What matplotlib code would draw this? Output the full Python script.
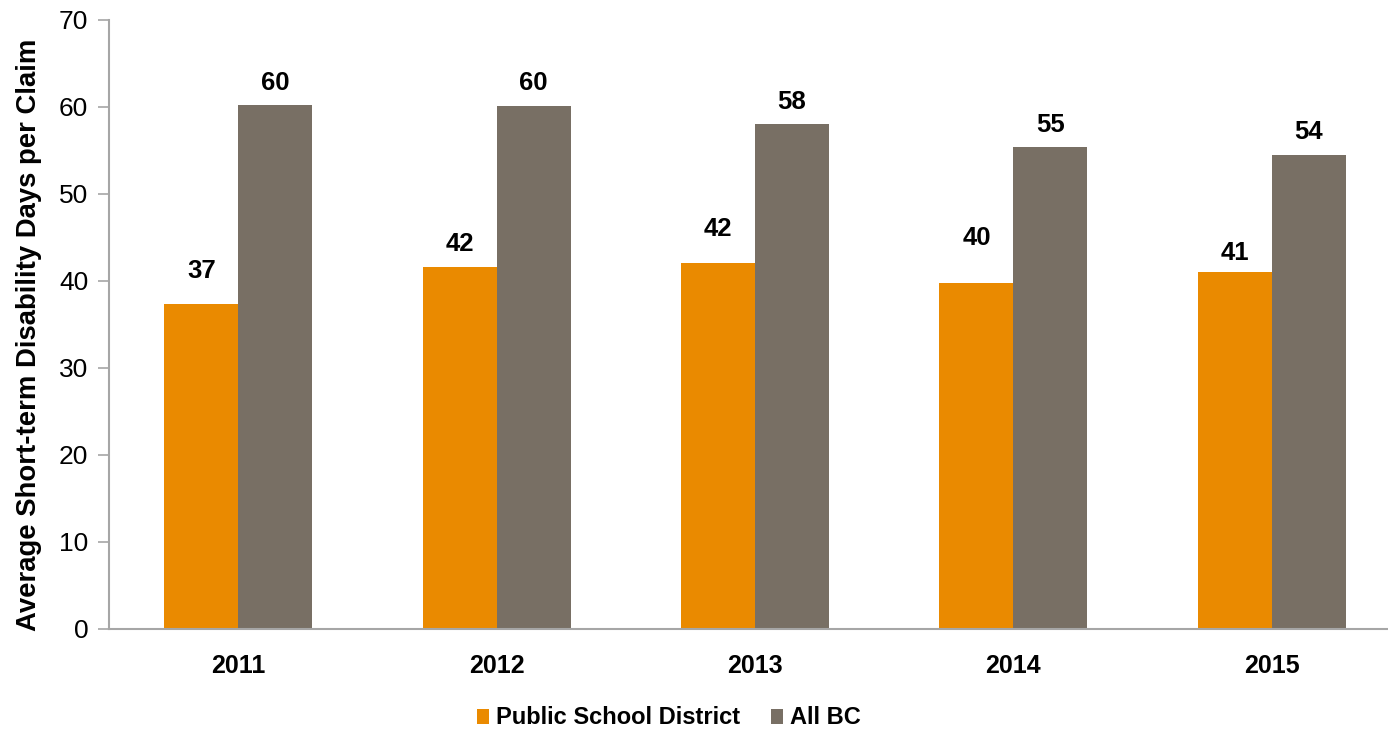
import numpy as np
from matplotlib import pyplot as plt

years = ['2011', '2012', '2013', '2014', '2015']
school = [37.3, 41.6, 42.0, 39.7, 41.0]
all_bc = [60.2, 60.1, 58.0, 55.4, 54.4]
school_labels = ['37', '42', '42', '40', '41']
bc_labels = ['60', '60', '58', '55', '54']

# gap (px) between bar top and label baseline, as placed in the original
school_gap = [26, 16, 27, 38, 12]
bc_gap = [15, 16, 15, 15, 16]

orange = '#EA8A00'
grey = '#786F64'
axis_col = '#A6A6A6'

plt.rcParams['font.family'] = ['Liberation Sans', 'DejaVu Sans']

fig = plt.figure(figsize=(13.88, 7.30), dpi=100)
ax = fig.add_axes([109/1388, 1-629/730, 1292/1388, 609.5/730])

x = np.arange(len(years))
w = 0.286
b1 = ax.bar(x - w/2, school, w, color=orange, label='Public School District')
b2 = ax.bar(x + w/2, all_bc, w, color=grey, label='All BC')

for bars, labs, gaps in [(b1, school_labels, school_gap), (b2, bc_labels, bc_gap)]:
    for bar, lab, g in zip(bars, labs, gaps):
        ax.annotate(lab, (bar.get_x() + bar.get_width()/2, bar.get_height()),
                    xytext=(0, g * 0.72), textcoords='offset points',
                    ha='center', va='baseline', fontsize=18.5, fontweight='bold')

ax.set_xlim(-0.5, 4.5)
ax.set_ylim(0, 70)
ax.set_yticks(range(0, 71, 10))
ax.set_xticks(x)
ax.set_xticklabels(years, fontsize=18, fontweight='bold')
ax.tick_params(axis='y', labelsize=19, length=8, width=1.2, color=axis_col, pad=7)
ax.tick_params(axis='x', length=0, pad=18)

for s in ['top', 'right']:
    ax.spines[s].set_visible(False)
for s in ['left', 'bottom']:
    ax.spines[s].set_color(axis_col)
    ax.spines[s].set_linewidth(1.5)

ax.set_ylabel('Average Short-term Disability Days per Claim', fontsize=19.8,
              fontweight='bold', va='center')
ax.yaxis.set_label_coords((29 - 109) / 1292, 0.483)

fig.legend(handles=[b1, b2], loc='center', bbox_to_anchor=(669/1388, 1-718/730),
           ncol=2, frameon=False, prop={'size': 17, 'weight': 'bold'},
           handlelength=0.5, handleheight=0.6, handletextpad=0.3, columnspacing=1.3)

plt.savefig('out.png', dpi=100)
